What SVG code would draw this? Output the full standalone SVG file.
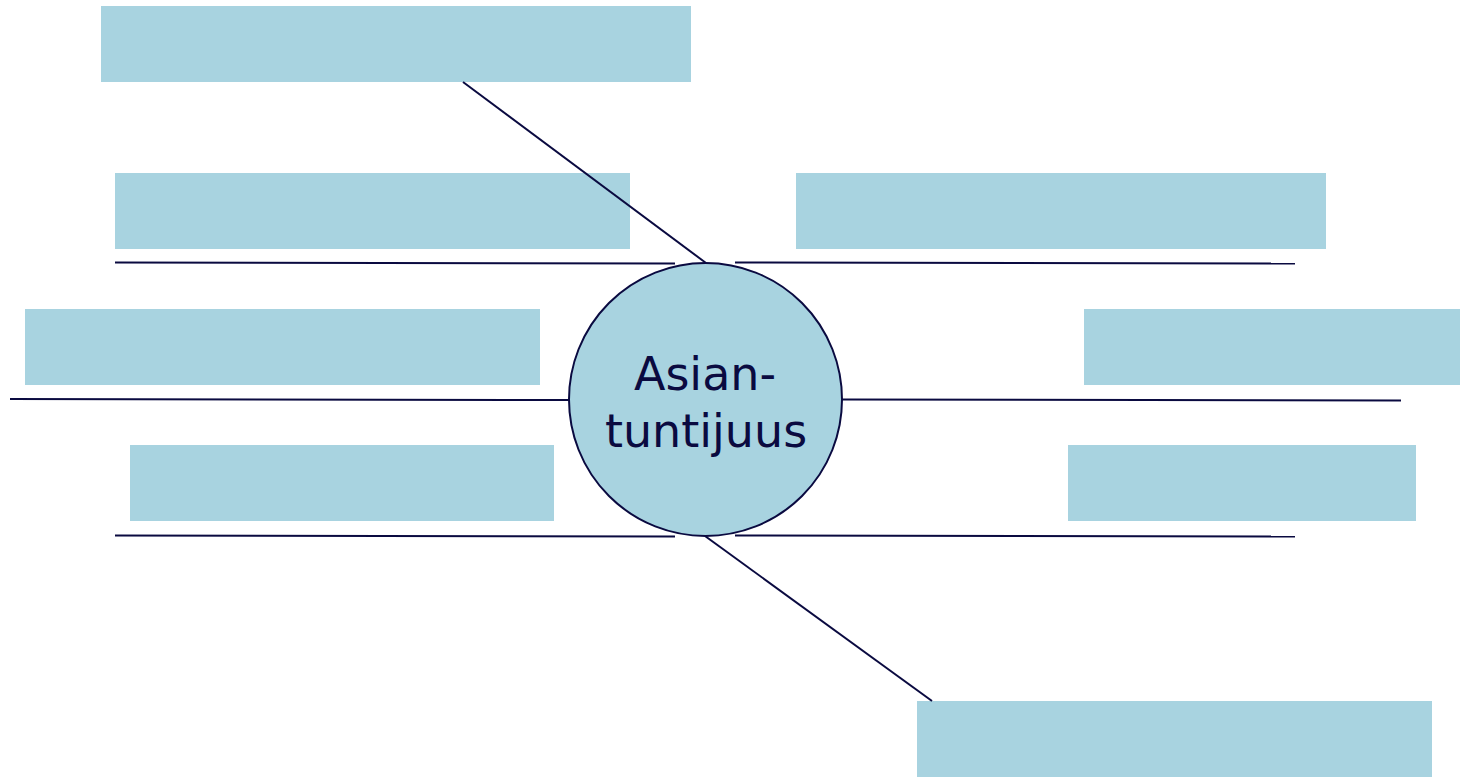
<svg xmlns="http://www.w3.org/2000/svg" width="1460" height="777" viewBox="0 0 1460 777">
<style>
.box{fill:#A8D3E0;stroke:none}
.ln{stroke:#0A0A40;stroke-width:2;fill:none}
.lbl{font-family:"DejaVu Sans",Verdana,sans-serif;font-size:46px;fill:#0A0A40;text-anchor:middle}
</style>
<rect width="1460" height="777" fill="#FFFFFF"/>
<g id="box1"><rect class="box" x="101" y="6" width="590" height="76"/></g>
<g id="box2"><rect class="box" x="115" y="173" width="515" height="76"/></g>
<g id="box3"><rect class="box" x="796" y="173" width="530" height="76"/></g>
<g id="box4"><rect class="box" x="25" y="309" width="515" height="76"/></g>
<g id="box5"><rect class="box" x="1084" y="309" width="376" height="76"/></g>
<g id="box6"><rect class="box" x="130" y="445" width="424" height="76"/></g>
<g id="box7"><rect class="box" x="1068" y="445" width="348" height="76"/></g>
<g id="box8"><rect class="box" x="917" y="701" width="515" height="76"/></g>
<g id="connectors">
<line class="ln" x1="463" y1="82" x2="706" y2="263"/>
<line class="ln" x1="705" y1="536" x2="932" y2="701"/>
<line class="ln" x1="115" y1="262.5" x2="675" y2="263.5"/>
<line class="ln" x1="735" y1="262.5" x2="1295" y2="263.5"/>
<line class="ln" x1="10" y1="399" x2="569" y2="400"/>
<line class="ln" x1="842" y1="399.5" x2="1401" y2="400.5"/>
<line class="ln" x1="115" y1="535.5" x2="675" y2="536.5"/>
<line class="ln" x1="735" y1="535.5" x2="1295" y2="536.5"/>
</g>
<g id="center">
<ellipse cx="705.5" cy="399.5" rx="136.5" ry="136.5" fill="#A8D3E0" stroke="#0A0A40" stroke-width="2"/>
<text class="lbl" x="705" y="390">Asian-</text>
<text class="lbl" x="706" y="447">tuntijuus</text>
</g>
</svg>
